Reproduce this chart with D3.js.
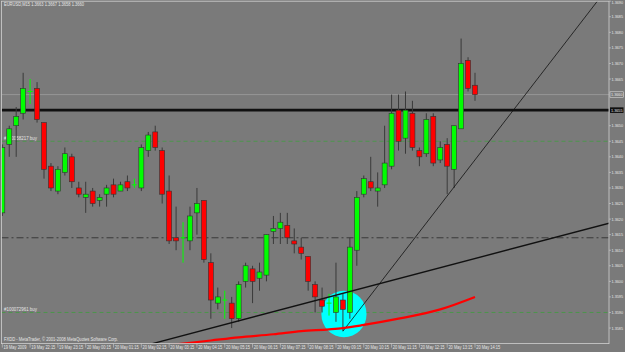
<!DOCTYPE html>
<html>
<head>
<meta charset="utf-8">
<script src="https://cdn.jsdelivr.net/npm/d3@7"></script>
<style>
  body { margin: 0; background: #7a7a7a; }
  svg { display: block; }
  text { font-family: "Liberation Sans", "DejaVu Sans", sans-serif; }
</style>
</head>
<body>
<svg id="chart" width="625" height="352"></svg>
<script>
// EURUSD M15, 19 May 21:15 .. 20 May 14:15 (bar index 0..68)
const opens = [1.3622,1.3644,1.3650,1.3654,1.3661,1.3662,1.3651,1.3637,1.3629,1.3635,
  1.3640,1.3630,1.3627,1.3629,1.3626,1.3628,1.3631,1.3629,1.3632,1.3631,
  1.3630,1.3642,1.3648,1.3642,1.3629,1.3614,1.3614,1.3613,1.3622,1.3626,
  1.3606,1.3593,1.3594,1.3593,1.3588,1.3600,1.3604,1.3601,1.3602,1.3616,
  1.3617,1.3618,1.3613,1.3611,1.3608,1.3599,1.3594,1.3593,1.3590,1.3594,
  1.3590,1.3610,1.3628,1.3632,1.3629,1.3631,1.3637,1.3655,1.3646,1.3654,
  1.3642,1.3641,1.3653,1.3639,1.3644,1.3636,1.3649,1.3671,1.3663];
const highs = [1.3644,1.3650,1.3656,1.3667,1.3665,1.3664,1.3651,1.3638,1.3637,1.3643,
  1.3641,1.3632,1.3632,1.3630,1.3628,1.3631,1.3633,1.3632,1.3634,1.3633,
  1.3644,1.3648,1.3650,1.3643,1.3634,1.3624,1.3619,1.3624,1.3630,1.3626,
  1.3609,1.3598,1.3597,1.3595,1.3600,1.3606,1.3605,1.3606,1.3615,1.3621,
  1.3622,1.3622,1.3617,1.3614,1.3608,1.3600,1.3598,1.3596,1.3606,1.3596,
  1.3614,1.3629,1.3634,1.3640,1.3635,1.3650,1.3660,1.3660,1.3661,1.3658,
  1.3643,1.3654,1.3654,1.3645,1.3646,1.3650,1.3678,1.3672,1.3667];
const lows = [1.3621,1.3640,1.3640,1.3652,1.3657,1.3651,1.3633,1.3629,1.3628,1.3634,
  1.3630,1.3627,1.3622,1.3624,1.3624,1.3624,1.3627,1.3629,1.3629,1.3630,
  1.3629,1.3640,1.3642,1.3625,1.3612,1.3610,1.3606,1.3610,1.3615,1.3606,
  1.3588,1.3591,1.3588,1.3585,1.3587,1.3598,1.3593,1.3597,1.3600,1.3612,
  1.3612,1.3612,1.3609,1.3607,1.3597,1.3590,1.3590,1.3589,1.3587,1.3584,
  1.3588,1.3605,1.3627,1.3629,1.3624,1.3630,1.3636,1.3642,1.3641,1.3642,
  1.3637,1.3640,1.3637,1.3638,1.3628,1.3630,1.3649,1.3661,1.3658];
const closes = [1.3643,1.3649,1.3653,1.3662,1.3661,1.3652,1.3636,1.3630,1.3636,1.3641,
  1.3632,1.3628,1.3628,1.3625,1.3627,1.3630,1.3628,1.3631,1.3630,1.3631,
  1.3643,1.3647,1.3643,1.3628,1.3613,1.3613,1.3614,1.3621,1.3625,1.3607,
  1.3594,1.3595,1.3594,1.3588,1.3599,1.3605,1.3600,1.3603,1.3615,1.3617,
  1.3619,1.3614,1.3612,1.3609,1.3600,1.3595,1.3592,1.3593,1.3595,1.3591,
  1.3611,1.3627,1.3633,1.3630,1.3630,1.3638,1.3654,1.3645,1.3655,1.3643,
  1.3640,1.3652,1.3638,1.3643,1.3637,1.3650,1.3670,1.3662,1.3660];

// moving average, read at a few bars: [bar, price]
const maPoints = [[24,1.35795],[30,1.3581],[34,1.3582],[39,1.3583],[43,1.3584],[47,1.35846],
  [49,1.3585],[52,1.3586],[57,1.3588],[63,1.3591],[68,1.3595]];

// trend lines: [[bar, price], [bar, price]]
const trendLines = [
  {pts: [[49, 1.3584], [85.6, 1.3690]], w: 0.8},
  {pts: [[21.6, 1.3580], [87.3, 1.36187]], w: 1.4}
];

// ellipse object: bars x prices
const ellipseBox = {x0: 45.9, x1: 52.4, p0: 1.3582, p1: 1.3597};

// horizontal levels
const bidPrice = 1.3660;
const blackLevel = 1.3655;
const dashDotLevel = 1.3614;
const orderLevels = [{p: 1.3645, label: "#100058217 buy"}, {p: 1.3590, label: "#100072961 buy"}];

const priceTicks = d3.range(1.3690, 1.35849, -0.0005).filter(p => Math.abs(p - 1.3660) > 1e-6 && Math.abs(p - 1.3655) > 1e-6);
const timeLabels = ["19 May 2009","19 May 22:15","19 May 23:15","20 May 00:15","20 May 01:15","20 May 02:15",
  "20 May 03:15","20 May 04:15","20 May 05:15","20 May 06:15","20 May 07:15","20 May 08:15","20 May 09:15",
  "20 May 10:15","20 May 11:15","20 May 12:15","20 May 13:15","20 May 14:15"];
const title = "EURUSD,M15  1.3663 1.3667 1.3658 1.3660";
const copyright = "FXDD - MetaTrader, \u00a9 2001-2008 MetaQuotes Software Corp.";

const plot = {l: 1.5, t: 1.2, r: 609, b: 343.6};
const x = d3.scaleLinear().domain([0, 68]).range([2.3, 475]);
const y = d3.scaleLinear().domain([1.3580, 1.3690]).range([343.6, 1.2]);

const svg = d3.select('#chart');
const fs = 4.6;
const txt = '#e6e6e6';

// small text squeezed to the width seen in the picture
function label(parent, tx, ty, s, len, size) {
  return parent.append('text').attr('x', tx).attr('y', ty)
    .attr('font-size', size || fs).attr('fill', txt)
    .attr('textLength', len).attr('lengthAdjust', 'spacingAndGlyphs')
    .text(s);
}

svg.append('rect').attr('width', 625).attr('height', 352).attr('fill', '#7a7a7a');

svg.append('clipPath').attr('id', 'clip')
  .append('rect').attr('x', plot.l).attr('y', plot.t)
  .attr('width', plot.r - plot.l).attr('height', plot.b - plot.t);

const g = svg.append('g').attr('clip-path', 'url(#clip)');

// levels
g.append('line').attr('x1', plot.l).attr('x2', plot.r)
  .attr('y1', y(bidPrice)).attr('y2', y(bidPrice))
  .attr('stroke', '#a8a8a8').attr('stroke-width', 0.6);
g.append('line').attr('x1', plot.l).attr('x2', plot.r)
  .attr('y1', y(blackLevel)).attr('y2', y(blackLevel))
  .attr('stroke', '#101010').attr('stroke-width', 2.6);
g.append('line').attr('x1', plot.l).attr('x2', plot.r)
  .attr('y1', y(dashDotLevel)).attr('y2', y(dashDotLevel))
  .attr('stroke', '#2a2a2a').attr('stroke-width', 0.8).attr('stroke-dasharray', '7,3,2,3');
orderLevels.forEach(o => {
  g.append('line').attr('x1', plot.l).attr('x2', plot.r)
    .attr('y1', y(o.p)).attr('y2', y(o.p))
    .attr('stroke', '#3aa03a').attr('stroke-width', 0.7).attr('stroke-dasharray', '4,3');
  label(g, 4, y(o.p) - 1.2, o.label, 33);
});

// ellipse
g.append('ellipse')
  .attr('cx', (x(ellipseBox.x0) + x(ellipseBox.x1)) / 2)
  .attr('cy', (y(ellipseBox.p0) + y(ellipseBox.p1)) / 2)
  .attr('rx', (x(ellipseBox.x1) - x(ellipseBox.x0)) / 2)
  .attr('ry', (y(ellipseBox.p0) - y(ellipseBox.p1)) / 2)
  .attr('fill', '#00ffff');

// candles
const bars = opens.map((o, i) => ({i, o, h: highs[i], l: lows[i], c: closes[i]}));
const bw = 5;
const cg = g.append('g').selectAll('g').data(bars).enter().append('g');
cg.append('line')
  .attr('x1', d => x(d.i)).attr('x2', d => x(d.i))
  .attr('y1', d => y(d.h)).attr('y2', d => y(d.l))
  .attr('stroke', d => d.o === d.c ? '#00ff00' : '#3a3a3a').attr('stroke-width', 1);
cg.filter(d => d.o !== d.c).append('rect')
  .attr('x', d => x(d.i) - bw / 2)
  .attr('y', d => y(Math.max(d.o, d.c)))
  .attr('width', bw)
  .attr('height', d => Math.max(1, y(Math.min(d.o, d.c)) - y(Math.max(d.o, d.c))))
  .attr('fill', d => d.c > d.o ? '#00ff00' : '#ff0000')
  .attr('stroke', '#333').attr('stroke-width', 0.6);
cg.filter(d => d.o === d.c).append('line')
  .attr('x1', d => x(d.i) - bw / 2).attr('x2', d => x(d.i) + bw / 2)
  .attr('y1', d => y(d.c)).attr('y2', d => y(d.c))
  .attr('stroke', '#00ff00').attr('stroke-width', 1);

// trend lines
trendLines.forEach(t => {
  g.append('line')
    .attr('x1', x(t.pts[0][0])).attr('y1', y(t.pts[0][1]))
    .attr('x2', x(t.pts[1][0])).attr('y2', y(t.pts[1][1]))
    .attr('stroke', '#111').attr('stroke-width', t.w);
});

// moving average
g.append('path').datum(maPoints)
  .attr('d', d3.line().x(d => x(d[0])).y(d => y(d[1])).curve(d3.curveMonotoneX))
  .attr('fill', 'none').attr('stroke', '#ff0000').attr('stroke-width', 2.2);

// frame
svg.append('rect').attr('x', plot.l).attr('y', plot.t)
  .attr('width', plot.r - plot.l).attr('height', plot.b - plot.t)
  .attr('fill', 'none').attr('stroke', '#d0d0d0').attr('stroke-width', 0.8);

// price axis
const pa = svg.append('g');
const pfs = 3.9;
priceTicks.forEach(p => {
  pa.append('line').attr('x1', plot.r).attr('x2', plot.r + 2)
    .attr('y1', y(p)).attr('y2', y(p)).attr('stroke', '#d0d0d0').attr('stroke-width', 0.6);
  label(pa, plot.r + 2.5, Math.max(y(p) + 1.5, 4.4), p.toFixed(4), 11.5, pfs);
});
pa.append('rect').attr('x', plot.r + 1).attr('y', y(bidPrice) - 2.8).attr('width', 13.5).attr('height', 5.6)
  .attr('fill', '#7a7a7a').attr('stroke', '#e8e8e8').attr('stroke-width', 0.5);
label(pa, plot.r + 2, y(bidPrice) + 1.5, bidPrice.toFixed(4), 11.5, pfs);
pa.append('rect').attr('x', plot.r + 1).attr('y', y(blackLevel) - 2.8).attr('width', 13.5).attr('height', 5.6)
  .attr('fill', '#101010');
label(pa, plot.r + 2, y(blackLevel) + 1.5, blackLevel.toFixed(4), 11.5, pfs);

// time axis
timeLabels.forEach((t, k) => {
  const xi = x(k * 4);
  svg.append('line').attr('x1', xi).attr('x2', xi).attr('y1', plot.b).attr('y2', plot.b + 4)
    .attr('stroke', '#d0d0d0').attr('stroke-width', 0.6);
  label(svg, xi + 1.2, plot.b + 5.6, t, k === 0 ? 23 : 24);
});

label(svg, 4, 6, title, 80);
label(svg, 4, 340.5, copyright, 114);
</script>
</body>
</html>
